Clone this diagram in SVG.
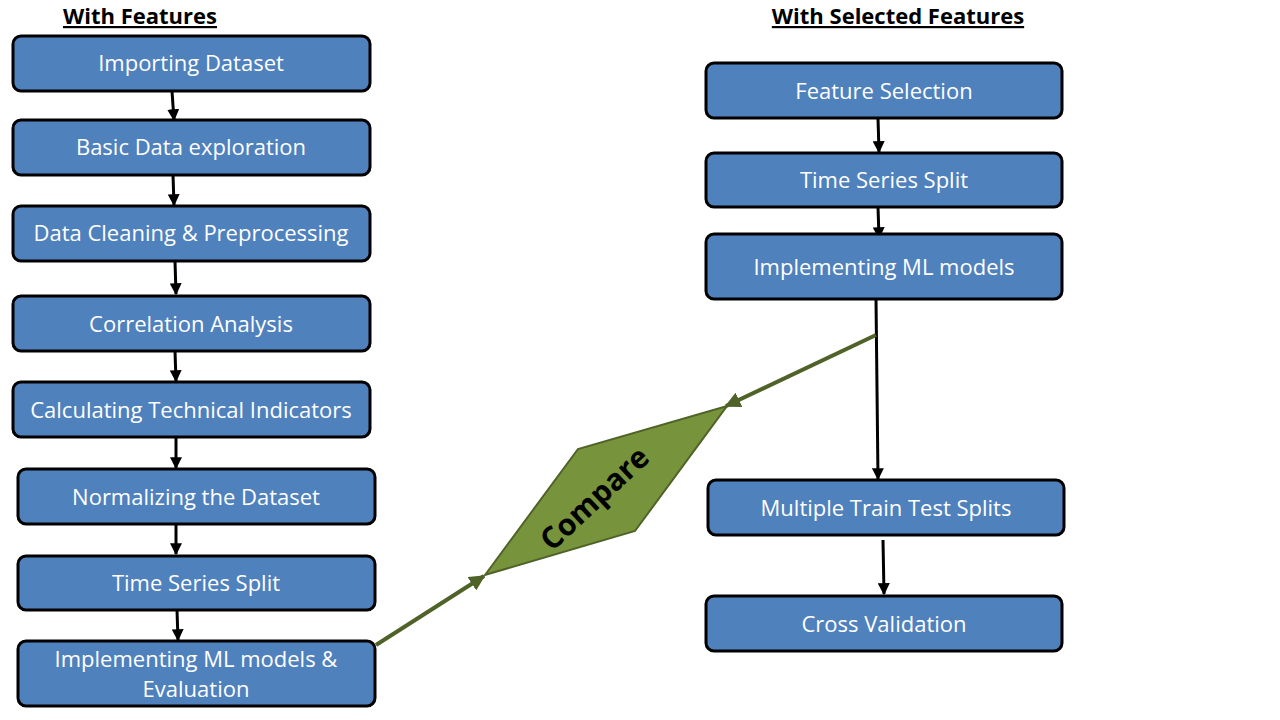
<svg xmlns="http://www.w3.org/2000/svg" width="1280" height="720" viewBox="0 0 1280 720">
<style>
.box{fill:#4F81BD;stroke:#000;stroke-width:3}
.lbl{font-family:"Open Sans","Liberation Sans",sans-serif;font-size:22px;fill:#fff;text-anchor:middle}
.ttl{font-family:"Open Sans","Liberation Sans",sans-serif;font-size:22px;font-weight:bold;fill:#000;text-decoration:underline;text-anchor:middle}
.blk{stroke:#000;stroke-width:3;fill:none;marker-end:url(#ab)}
.grn{stroke:#4F6228;stroke-width:4;fill:none;marker-end:url(#ag)}
</style>
<defs>
<marker id="ab" viewBox="0 0 10 10" refX="9" refY="5" markerWidth="4" markerHeight="4" orient="auto" markerUnits="strokeWidth"><path d="M0,0 L10,5 L0,10 z" fill="#000"/></marker>
<marker id="ag" viewBox="0 0 10 10" refX="9" refY="5" markerWidth="4" markerHeight="4" orient="auto" markerUnits="strokeWidth"><path d="M0,0 L10,5 L0,10 z" fill="#4F6228"/></marker>
</defs>
<rect width="1280" height="720" fill="#fff"/>
<text class="ttl" x="140" y="24">With Features</text>
<text class="ttl" x="898" y="24">With Selected Features</text>
<g id="connectors">
<line class="blk" x1="172" y1="91" x2="174" y2="120"/>
<line class="blk" x1="173" y1="175" x2="174" y2="205"/>
<line class="blk" x1="175" y1="261" x2="176" y2="294"/>
<line class="blk" x1="175" y1="351" x2="176" y2="381"/>
<line class="blk" x1="176" y1="437" x2="176" y2="468"/>
<line class="blk" x1="176" y1="524" x2="176" y2="554"/>
<line class="blk" x1="177" y1="610" x2="178" y2="640"/>
<line class="blk" x1="878" y1="118" x2="879" y2="152"/>
<line class="blk" x1="878" y1="207" x2="879" y2="238"/>
<line class="blk" x1="876" y1="299" x2="878" y2="479"/>
<line class="blk" x1="883" y1="540" x2="884" y2="594"/>
<line class="grn" x1="376" y1="645" x2="484" y2="576"/>
<line class="grn" x1="876" y1="335" x2="726" y2="406"/>
</g>
<g id="n1"><rect class="box" x="13" y="36" width="357" height="55" rx="8"/><text class="lbl" x="191" y="71">Importing Dataset</text></g>
<g id="n2"><rect class="box" x="13" y="120" width="357" height="55" rx="8"/><text class="lbl" x="191" y="155">Basic Data exploration</text></g>
<g id="n3"><rect class="box" x="13" y="206" width="357" height="55" rx="8"/><text class="lbl" x="191" y="241">Data Cleaning &amp; Preprocessing</text></g>
<g id="n4"><rect class="box" x="13" y="296" width="357" height="55" rx="8"/><text class="lbl" x="191" y="332">Correlation Analysis</text></g>
<g id="n5"><rect class="box" x="13" y="382" width="357" height="55" rx="8"/><text class="lbl" x="191" y="418">Calculating Technical Indicators</text></g>
<g id="n6"><rect class="box" x="18" y="469" width="357" height="55" rx="8"/><text class="lbl" x="196" y="505">Normalizing the Dataset</text></g>
<g id="n7"><rect class="box" x="18" y="556" width="357" height="54" rx="8"/><text class="lbl" x="196" y="591">Time Series Split</text></g>
<g id="n8"><rect class="box" x="18" y="641" width="357" height="65" rx="8"/><text class="lbl" x="196" y="667">Implementing ML models &amp;</text><text class="lbl" x="196" y="697">Evaluation</text></g>
<g id="r1"><rect class="box" x="706" y="63" width="356" height="55" rx="8"/><text class="lbl" x="884" y="99">Feature Selection</text></g>
<g id="r2"><rect class="box" x="706" y="153" width="356" height="54" rx="8"/><text class="lbl" x="884" y="188">Time Series Split</text></g>
<g id="r3"><rect class="box" x="706" y="234" width="356" height="65" rx="8"/><text class="lbl" x="884" y="275">Implementing ML models</text></g>
<g id="r4"><rect class="box" x="708" y="480" width="356" height="55" rx="8"/><text class="lbl" x="886" y="516">Multiple Train Test Splits</text></g>
<g id="r5"><rect class="box" x="706" y="596" width="356" height="55" rx="8"/><text class="lbl" x="884" y="632">Cross Validation</text></g>
<g id="compare"><polygon points="485,575 578,449 727,406 635,531" fill="#77933C" stroke="#4F6228" stroke-width="2"/><text x="0" y="0" transform="translate(594,498) rotate(-43)" font-family="Open Sans, Liberation Sans, sans-serif" font-size="30" font-weight="bold" text-anchor="middle" fill="#000" dy="11">Compare</text></g>
</svg>
